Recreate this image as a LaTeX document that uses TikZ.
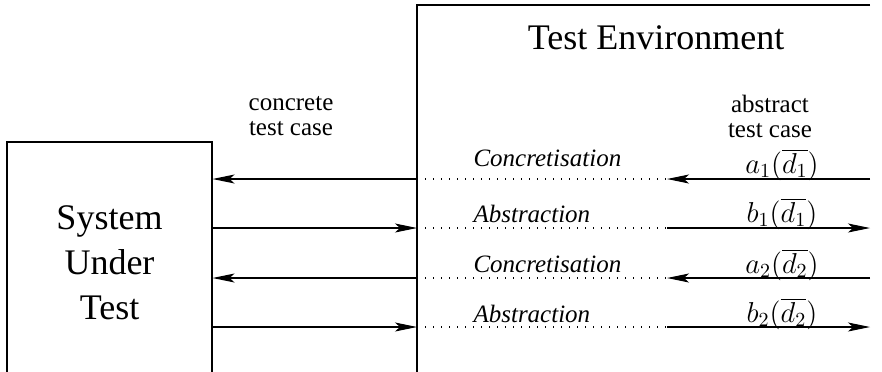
\documentclass[tikz,border=0pt]{standalone}
\usepackage{fontspec}
\setmainfont{Liberation Serif}
\usetikzlibrary{arrows.meta}
\usetikzlibrary{positioning}

\begin{document}
\begin{tikzpicture}
[>={Stealth[length=11pt,width=4.5pt,inset=2.5pt]},x=0.5pt,y=-0.5pt,line width=0.55pt,
 small/.style={font=\fontsize{12.5pt}{12.5pt}\selectfont,inner sep=0pt},
 big/.style={font=\fontsize{18pt}{22.5pt}\selectfont,inner sep=0pt},
 tag/.style={inner sep=0pt,font=\fontsize{12.5pt}{12.5pt}\selectfont\itshape,anchor=base west},
 msg/.style={inner sep=0pt,font=\fontsize{14pt}{14pt}\selectfont,anchor=base},
 link/.style={dash pattern=on 0.6pt off 3.4pt}]

\useasboundingbox (0,0) rectangle (882,371);

\node[big,draw,align=center,minimum width=102.5pt,minimum height=120.5pt] (sut) at (109.5,262.5) {System\\Under\\Test};
\draw (870,5) -- (417,5) -- (417,380);
\node[big,anchor=base] (env) at (656,49) {Test Environment};

\node[small,align=center] (cc) at (291,116) {concrete\\test case};
\node[small,align=center] (ac) at (770,116) {abstract\\test case};

\coordinate (l1) at (417,179);
\coordinate (l2) at (417,228);
\coordinate (l3) at (417,278);
\coordinate (l4) at (417,327);
\coordinate (m1) at (667,179);
\coordinate (m2) at (667,228);
\coordinate (m3) at (667,278);
\coordinate (m4) at (667,327);
\coordinate (r1) at (870,179);
\coordinate (r2) at (870,228);
\coordinate (r3) at (870,278);
\coordinate (r4) at (870,327);

\draw[->] (l1) -- (l1 -| sut.east);
\draw[->] (l2 -| sut.east) -- (l2);
\draw[->] (l3) -- (l3 -| sut.east);
\draw[->] (l4 -| sut.east) -- (l4);

\draw[link] (l1) -- (m1);
\draw[link] (l2) -- (m2);
\draw[link] (l3) -- (m3);
\draw[link] (l4) -- (m4);
\draw[->] (r1) -- (m1);
\draw[->] (m2) -- (r2);
\draw[->] (r3) -- (m3);
\draw[->] (m4) -- (r4);

\node[tag] (k1) at (473,166) {Concretisation};
\node[tag] (k2) at (473,222) {Abstraction};
\node[tag] (k3) at (473,272) {Concretisation};
\node[tag] (k4) at (473,322) {Abstraction};

\node[msg] (a1) at (782,173) {$a_1(\overline{d_1})$};
\node[msg] (b1) at (782,222) {$b_1(\overline{d_1})$};
\node[msg] (a2) at (782,273) {$a_2(\overline{d_2})$};
\node[msg] (b2) at (782,322) {$b_2(\overline{d_2})$};
\end{tikzpicture}
\end{document}
